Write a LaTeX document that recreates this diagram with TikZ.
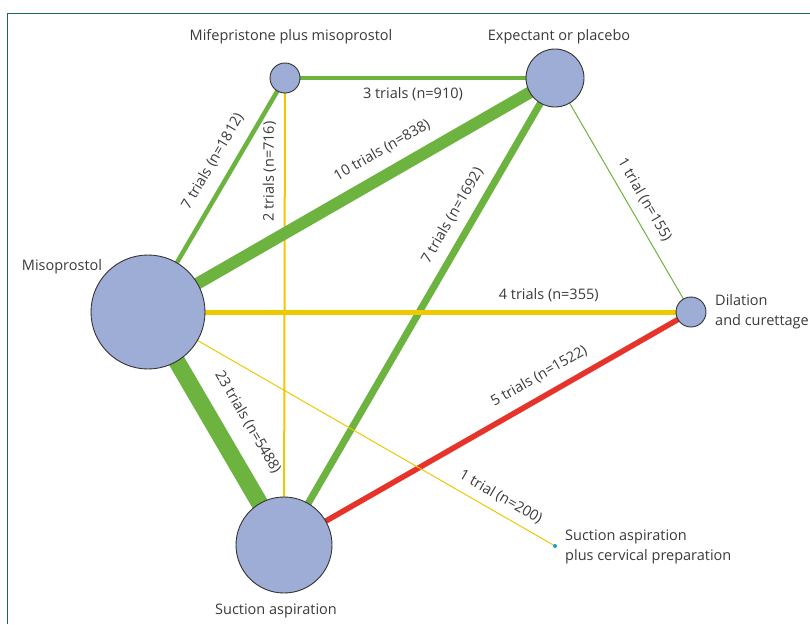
\documentclass[tikz,border=0pt]{standalone}
\usepackage{fontspec}
\setmainfont{Open Sans}
\definecolor{gr}{HTML}{6CB33F}
\definecolor{yl}{HTML}{EFC800}
\definecolor{rd}{HTML}{E8332A}
\definecolor{nf}{HTML}{9EADD6}
\definecolor{nb}{HTML}{333333}
\definecolor{tx}{HTML}{3A3A3A}
\definecolor{fr}{HTML}{1E6B4A}
\definecolor{tl}{HTML}{1A9EC0}
\pgfdeclarelayer{edges}
\pgfsetlayers{edges,main}
\begin{document}
\begin{tikzpicture}[x=1pt,y=-1pt,
  drug/.style={circle,draw=nb,line width=0.9pt,fill=nf,inner sep=0pt},
  txt/.style={text=tx,font=\fontsize{14.5}{20}\selectfont,inner sep=0pt},
  lab/.style={txt,sloped},
  gline/.style={draw=gr},
  yline/.style={draw=yl},
  rline/.style={draw=rd}]
\useasboundingbox (0,0) rectangle (810,624);
\draw[fr,line width=1pt] (7,624) -- (7,13) -- (810,13);
% nodes
\node[drug,minimum size=30pt] (mife) at (285,78) {};
\node[drug,minimum size=58pt] (exp) at (555,78) {};
\node[drug,minimum size=114pt] (miso) at (148,312) {};
\node[drug,minimum size=30pt] (dil) at (691,312) {};
\node[drug,minimum size=96pt] (suc) at (284,545) {};
\node[circle,fill=tl,inner sep=0pt,minimum size=4pt] (cerv) at (555,546) {};
% node labels
\node[txt] (lmife) at (291,37) {Mifepristone plus misoprostol};
\node[txt] (lexp) at (559,37) {Expectant or placebo};
\node[txt] (lmiso) at (62,267) {Misoprostol};
\node[txt,anchor=west,align=left] (ldil) at (715,312) {Dilation\\and curettage};
\node[txt] (lsuc) at (276,611) {Suction aspiration};
\node[txt,anchor=west,align=left] (lcerv) at (565,547) {Suction aspiration\\plus cervical preparation};
% edges
\begin{pgfonlayer}{edges}
\draw[gline,line width=4.5pt] (mife.center) -- node[lab,below=7.7pt,pos=0.474] (e1) {3 trials (n=910)} (exp.center);
\draw[gline,line width=4.5pt] (miso.center) -- node[lab,above=11.3pt,pos=0.60] (e2) {7 trials (n=1812)} (mife.center);
\draw[yline,line width=2pt] (suc.center) -- node[lab,above=7.7pt,pos=0.80] (e3) {2 trials (n=716)} (mife.center);
\draw[gline,line width=12pt] (miso.center) -- node[lab,above=10.8pt,pos=0.604] (e4) {10 trials (n=838)} (exp.center);
\draw[gline,line width=7pt] (suc.center) -- node[lab,above=9.5pt,pos=0.684] (e5) {7 trials (n=1692)} (exp.center);
\draw[gline,line width=1pt] (exp.center) -- node[lab,above=9.2pt,pos=0.556] (e6) {1 trial (n=155)} (dil.center);
\draw[yline,line width=5pt] (miso.center) -- node[lab,above=7.7pt,pos=0.738] (e7) {4 trials (n=355)} (dil.center);
\draw[gline,line width=17pt] (miso.center) -- node[lab,above=15.6pt,pos=0.539] (e8) {23 trials (n=5488)} (suc.center);
\draw[rline,line width=5.5pt] (suc.center) -- node[lab,above=10.4pt,pos=0.651] (e9) {5 trials (n=1522)} (dil.center);
\draw[yline,line width=1pt] (miso.center) -- node[lab,above=8.2pt,pos=0.848] (e10) {1 trial (n=200)} (cerv.center);
\end{pgfonlayer}
\end{tikzpicture}
\end{document}
